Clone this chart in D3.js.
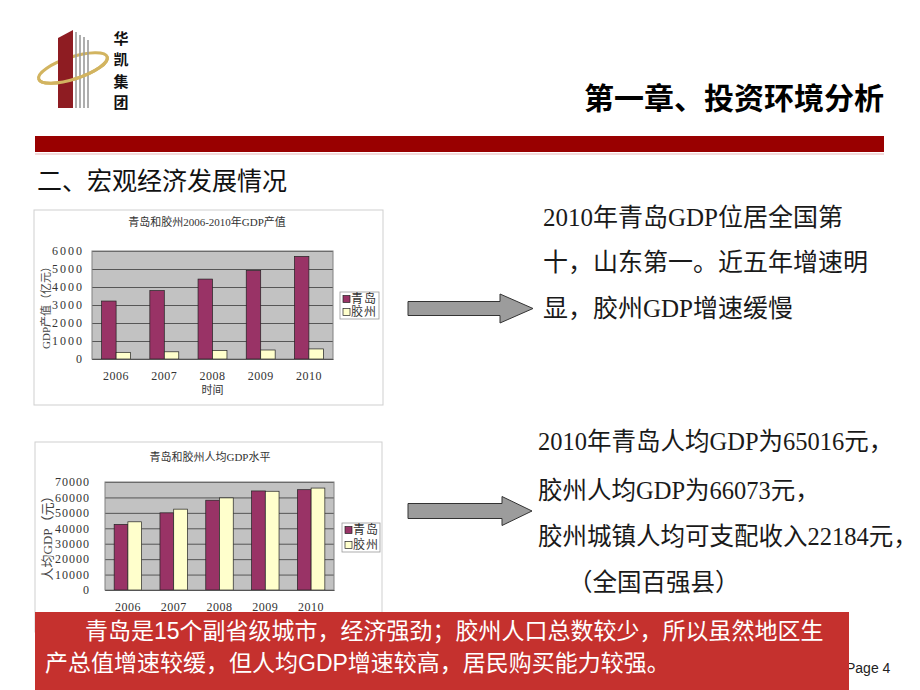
<!DOCTYPE html>
<html><head><meta charset="utf-8">
<script src="https://cdn.jsdelivr.net/npm/d3@7/dist/d3.min.js"></script>
<style>
html,body{margin:0;padding:0;background:#fff;}
svg{display:block;}
</style></head>
<body>
<script>
// ---------- data ----------
const years = ["2006","2007","2008","2009","2010"];
const seriesNames = ["青岛","胶州"];
const gdpQingdao = [3220, 3800, 4440, 4920, 5700];
const gdpJiaozhou = [370, 400, 480, 500, 560];
const gdpTicks = [0,1000,2000,3000,4000,5000,6000];
const pcQingdao = [42500, 50000, 58200, 64200, 65016];
const pcJiaozhou = [44200, 52400, 59700, 64000, 66073];
const pcTicks = [0,10000,20000,30000,40000,50000,60000,70000];
const colors = ["#993366","#ffffcc"];

const CJK = "'Noto Sans CJK SC', sans-serif";
const SERIF = "'Liberation Serif', 'Noto Sans CJK SC', serif";
const SANS = "'Liberation Sans', 'Noto Sans CJK SC', sans-serif";

const svg = d3.select("body").append("svg").attr("width",920).attr("height",690);

// ---------- logo ----------
const logo = svg.append("g");
const ring = logo.append("g").attr("transform","translate(73,68) rotate(-18)");
ring.append("ellipse").attr("rx",36).attr("ry",11).attr("fill","none")
  .attr("stroke","#d2b460").attr("stroke-width",3.2);
logo.append("polygon").attr("points","58,38 73,30 73,108 58,108").attr("fill","#8e1c22");
[[76,32],[80,35],[84,37],[88,40]].forEach(([x,t])=>{
  logo.append("line").attr("x1",x).attr("x2",x).attr("y1",t).attr("y2",108)
    .attr("stroke","#9a9a9a").attr("stroke-width",1.6);
});
logo.append("g").attr("transform","translate(73,68) rotate(-18)")
  .append("path").attr("d","M -36 0 A 36 11 0 0 0 36 0").attr("fill","none")
  .attr("stroke","#d2b460").attr("stroke-width",3.2);
["华","凯","集","团"].forEach((c,i)=>{
  logo.append("text").attr("x",121).attr("y",37+i*21.5).attr("text-anchor","middle")
    .attr("dominant-baseline","central").attr("font-family",CJK).attr("font-weight","bold")
    .attr("font-size",15).attr("fill","#111").text(c);
});

// ---------- header ----------
svg.append("text").attr("x",884).attr("y",96).attr("text-anchor","end")
  .attr("dominant-baseline","central").attr("font-family",CJK).attr("font-weight","bold")
  .attr("font-size",30).attr("fill","#000").text("第一章、投资环境分析");
svg.append("rect").attr("x",35).attr("y",153).attr("width",849).attr("height",2).attr("fill","#f3dada");
svg.append("rect").attr("x",35).attr("y",136).attr("width",849).attr("height",16).attr("fill","#990000");
svg.append("text").attr("x",37).attr("y",179).attr("dominant-baseline","central")
  .attr("font-family",CJK).attr("font-weight",400).attr("font-size",25).attr("fill","#111")
  .text("二、宏观经济发展情况");

// ---------- chart builder ----------
function drawChart(cfg){
  const g = svg.append("g");
  g.append("rect").attr("x",cfg.frame[0]).attr("y",cfg.frame[1]).attr("width",cfg.frame[2])
    .attr("height",cfg.frame[3]).attr("fill","#fff").attr("stroke","#cfcfcf");
  const x0 = d3.scaleBand().domain(years).range([cfg.left,cfg.right]);
  const x1 = d3.scaleBand().domain(seriesNames).range([x0.bandwidth()*0.2, x0.bandwidth()*0.8]);
  const y = d3.scaleLinear().domain([0,cfg.max]).range([cfg.bottom,cfg.top]);
  g.append("rect").attr("x",cfg.left).attr("y",cfg.top).attr("width",cfg.right-cfg.left)
    .attr("height",cfg.bottom-cfg.top).attr("fill","#c2c2c2");
  const ya = g.append("g").attr("transform",`translate(${cfg.left},0)`)
    .call(d3.axisLeft(y).tickValues(cfg.ticks).tickSizeInner(-(cfg.right-cfg.left)).tickSizeOuter(0)
      .tickPadding(cfg.ypad).tickFormat(d3.format("d")));
  ya.select(".domain").remove();
  ya.selectAll(".tick line").attr("stroke","#3a3a3a").attr("stroke-width",0.8);
  ya.selectAll(".tick text").attr("font-family",SERIF).attr("font-size",cfg.yfs)
    .attr("letter-spacing",cfg.yls).attr("fill","#333");
  g.append("rect").attr("x",cfg.left).attr("y",cfg.top).attr("width",cfg.right-cfg.left)
    .attr("height",cfg.bottom-cfg.top).attr("fill","none").attr("stroke","#808080");
  const data = years.map((yr,i)=>({yr, vals:[cfg.a[i],cfg.b[i]]}));
  const grp = g.selectAll(".cat").data(data).join("g").attr("transform",d=>`translate(${x0(d.yr)},0)`);
  grp.selectAll("rect").data(d=>d.vals.map((v,k)=>({k,v}))).join("rect")
    .attr("x",d=>x1(seriesNames[d.k])).attr("width",x1.bandwidth())
    .attr("y",d=>y(d.v)).attr("height",d=>y(0)-y(d.v))
    .attr("fill",d=>colors[d.k]).attr("stroke","#222").attr("stroke-width",0.7);
  const xa = g.append("g").attr("transform",`translate(0,${cfg.bottom})`)
    .call(d3.axisBottom(x0).tickSize(0).tickPadding(12));
  xa.select(".domain").attr("stroke","#555");
  xa.selectAll(".tick text").attr("font-family",SERIF).attr("font-size",12).attr("fill","#333")
    .attr("letter-spacing",0.5);
  g.append("text").attr("x",cfg.titleX).attr("y",cfg.titleY).attr("text-anchor","middle")
    .attr("dominant-baseline","central").attr("font-family",SERIF).attr("font-size",11)
    .attr("fill","#333").text(cfg.title);
  g.append("text").attr("transform",`translate(${cfg.ytX},${cfg.ytY}) rotate(-90)`)
    .attr("text-anchor","middle").attr("dominant-baseline","central").attr("font-family",SERIF)
    .attr("font-size",cfg.ytFs).attr("fill","#444").text(cfg.ytitle);
  if(cfg.xtitle){
    g.append("text").attr("x",(cfg.left+cfg.right)/2).attr("y",cfg.bottom+31).attr("text-anchor","middle")
      .attr("dominant-baseline","central").attr("font-family",SERIF).attr("font-size",11)
      .attr("fill","#333").text(cfg.xtitle);
  }
  const L = cfg.legend;
  g.append("rect").attr("x",L[0]).attr("y",L[1]).attr("width",L[2]).attr("height",L[3])
    .attr("fill","#fff").attr("stroke","#9a9a9a").attr("stroke-width",0.8);
  seriesNames.forEach((s,k)=>{
    const cy = L[1]+7+k*(L[3]-14);
    g.append("rect").attr("x",L[0]+3).attr("y",cy-3.5).attr("width",7).attr("height",7)
      .attr("fill",colors[k]).attr("stroke","#222").attr("stroke-width",0.7);
    g.append("text").attr("x",L[0]+11).attr("y",cy).attr("dominant-baseline","central")
      .attr("font-family",SERIF).attr("font-size",12).attr("letter-spacing",1).attr("fill","#333").text(s);
  });
}

drawChart({frame:[34,210,349,195], left:92, right:333, top:251, bottom:359, max:6000,
  ticks:gdpTicks, a:gdpQingdao, b:gdpJiaozhou, ypad:8, yfs:12, yls:2,
  title:"青岛和胶州2006-2010年GDP产值", titleX:207, titleY:222,
  ytitle:"GDP产值（亿元）", ytX:46, ytY:305, ytFs:11, xtitle:"时间",
  legend:[340,292,39,27]});

drawChart({frame:[35,442,347,190], left:105, right:334, top:482, bottom:590, max:70000,
  ticks:pcTicks, a:pcQingdao, b:pcJiaozhou, ypad:15, yfs:12, yls:1,
  title:"青岛和胶州人均GDP水平", titleX:210, titleY:457,
  ytitle:"人均GDP（元）", ytX:47, ytY:535, ytFs:13, xtitle:null,
  legend:[342,523,38,29]});

// ---------- arrows ----------
function arrow(x0,x1,tip,ty,sh,hh){
  svg.append("polygon").attr("points",
    `${x0},${ty-sh} ${x1},${ty-sh} ${x1},${ty-hh} ${tip},${ty} ${x1},${ty+hh} ${x1},${ty+sh} ${x0},${ty+sh}`)
    .attr("fill","#9c9c9c").attr("stroke","#333").attr("stroke-width",1);
}
arrow(408,500,533,308.5,7,14.5);
arrow(408,502,532,511,7.5,14.5);

// ---------- right texts ----------
const txt1 = ["2010年青岛GDP位居全国第","十，山东第一。近五年增速明","显，胶州GDP增速缓慢"];
txt1.forEach((t,i)=>{
  svg.append("text").attr("x",543).attr("y",217+i*45.5).attr("dominant-baseline","central")
    .attr("font-family",SERIF).attr("font-size",25).attr("fill","#1a1a1a").text(t);
});
const txt2 = ["2010年青岛人均GDP为65016元，","胶州人均GDP为66073元，","胶州城镇人均可支配收入22184元，","（全国百强县）"];
const txt2x = [538,538,538,568];
const txt2y = [441,490,536,582];
txt2.forEach((t,i)=>{
  svg.append("text").attr("x",txt2x[i]).attr("y",txt2y[i]).attr("dominant-baseline","central")
    .attr("font-family",SERIF).attr("font-size",24.5).attr("fill","#1a1a1a").text(t);
});

// ---------- footer ----------
svg.append("text").attr("x",846).attr("y",673).attr("font-family","'Liberation Sans', Arial, sans-serif")
  .attr("font-size",14).attr("fill","#222").text("Page 4");
svg.append("rect").attr("x",35).attr("y",612).attr("width",814).attr("height",78).attr("fill","#c5312e");
svg.append("text").attr("x",85).attr("y",631).attr("dominant-baseline","central")
  .attr("font-family",SANS).attr("font-size",23).attr("fill","#fff")
  .text("青岛是15个副省级城市，经济强劲；胶州人口总数较少，所以虽然地区生");
svg.append("text").attr("x",45).attr("y",663).attr("dominant-baseline","central")
  .attr("font-family",SANS).attr("font-size",23).attr("fill","#fff")
  .text("产总值增速较缓，但人均GDP增速较高，居民购买能力较强。");
</script>
</body></html>
